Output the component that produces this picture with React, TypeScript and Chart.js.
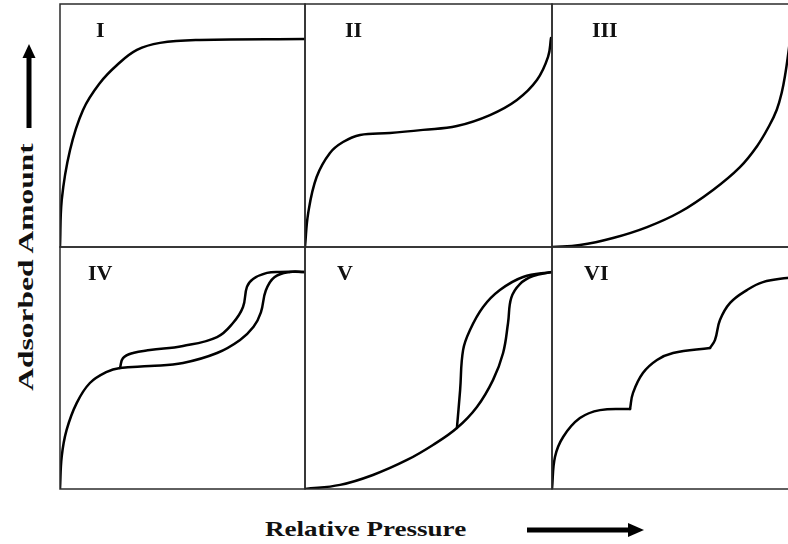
import React, { useEffect, useRef } from "react";
import { Chart, registerables } from "chart.js";

Chart.register(...registerables);

// Isotherm shapes, relative pressure (x) vs adsorbed amount (y), both 0..1
const typeI: number[][] = [
  [0, 0], [0.007, 0.193], [0.041, 0.399], [0.094, 0.564], [0.163, 0.675],
  [0.233, 0.749], [0.314, 0.811], [0.408, 0.84], [0.571, 0.852], [1.0, 0.856],
];
const typeII: number[][] = [
  [0, 0], [0.013, 0.14], [0.047, 0.288], [0.101, 0.387], [0.154, 0.432],
  [0.223, 0.461], [0.344, 0.469], [0.478, 0.482], [0.615, 0.498], [0.749, 0.543],
  [0.858, 0.605], [0.939, 0.687], [0.984, 0.782], [0.996, 0.86],
];
const typeIII: number[][] = [
  [0, 0], [0.113, 0.008], [0.247, 0.037], [0.385, 0.082], [0.518, 0.144],
  [0.652, 0.235], [0.761, 0.329], [0.83, 0.415], [0.88, 0.5], [0.91, 0.565],
  [0.93, 0.635], [0.945, 0.715], [0.957, 0.8], [0.97, 0.9],
];
const typeIVAds: number[][] = [
  [0, 0], [0.007, 0.134], [0.027, 0.244], [0.068, 0.355], [0.122, 0.438],
  [0.191, 0.484], [0.245, 0.5], [0.367, 0.508], [0.502, 0.521], [0.641, 0.562],
  [0.735, 0.616], [0.79, 0.67], [0.82, 0.73], [0.84, 0.82], [0.875, 0.875],
  [0.939, 0.897], [0.996, 0.897],
];
const typeIVDes: number[][] = [
  [0.245, 0.5], [0.257, 0.541], [0.298, 0.562], [0.367, 0.574], [0.502, 0.591],
  [0.641, 0.628], [0.706, 0.686], [0.747, 0.752], [0.763, 0.835], [0.788, 0.868],
  [0.845, 0.893], [0.898, 0.897], [0.996, 0.897],
];
const typeVAds: number[][] = [
  [0, 0], [0.142, 0.017], [0.275, 0.058], [0.413, 0.12], [0.518, 0.182],
  [0.615, 0.252], [0.696, 0.339], [0.761, 0.45], [0.802, 0.562], [0.822, 0.686],
  [0.835, 0.79], [0.87, 0.847], [0.923, 0.88], [1.0, 0.897],
];
const typeVDes: number[][] = [
  [0.615, 0.252], [0.628, 0.409], [0.64, 0.574], [0.668, 0.657], [0.721, 0.752],
  [0.789, 0.822], [0.883, 0.876], [1.0, 0.897],
];
// stepwise multilayer isotherm, one array per step
const typeVIStep1: number[][] = [
  [0, 0], [0.012, 0.132], [0.045, 0.215], [0.113, 0.293], [0.194, 0.326],
  [0.316, 0.331],
];
const typeVIStep2: number[][] = [
  [0.316, 0.331], [0.328, 0.397], [0.368, 0.479], [0.425, 0.533], [0.49, 0.562],
  [0.64, 0.583],
];
const typeVIStep3: number[][] = [
  [0.64, 0.583], [0.66, 0.616], [0.68, 0.698], [0.721, 0.769], [0.789, 0.822],
  [0.854, 0.855], [0.951, 0.872], [0.99, 0.874],
];

const romanLabels = ["I", "II", "III", "IV", "V", "VI"];
const panelSeries: number[][][][] = [
  [typeI], [typeII], [typeIII],
  [typeIVAds, typeIVDes], [typeVAds, typeVDes],
  [typeVIStep1, typeVIStep2, typeVIStep3],
];
const xAxisTitle = "Relative Pressure";
const yAxisTitle = "Adsorbed Amount";

// grid geometry (page pixels)
const colEdges = [60, 305, 552, 799];
const rowEdges = [4, 247, 489];
const PAD = 2;
const SERIF = '"Liberation Serif", "Times New Roman", serif';

const framePlugin = {
  id: "panelFrame",
  afterDatasetsDraw(chart: any) {
    const { ctx, chartArea: a } = chart;
    ctx.save();
    ctx.strokeStyle = "#2b2b2b";
    ctx.lineWidth = 1.5;
    ctx.strokeRect(a.left, a.top, a.right - a.left, a.bottom - a.top);
    ctx.restore();
  },
};

function Panel({ index }: { index: number }) {
  const ref = useRef<HTMLCanvasElement>(null);
  const col = index % 3;
  const row = Math.floor(index / 3);
  const x0 = colEdges[col];
  const y0 = rowEdges[row];
  const w = colEdges[col + 1] - x0;
  const h = rowEdges[row + 1] - y0;

  useEffect(() => {
    if (!ref.current) return;
    const chart = new Chart(ref.current, {
      type: "line",
      data: {
        datasets: panelSeries[index].map((pts) => ({
          data: pts.map(([x, y]) => ({ x, y })),
          borderColor: "#000",
          borderWidth: 2.5,
          pointRadius: 0,
          fill: false,
          tension: 0.4,
          borderCapStyle: "round" as const,
          borderJoinStyle: "round" as const,
        })),
      },
      options: {
        animation: false,
        responsive: false,
        events: [],
        layout: { padding: PAD },
        plugins: { legend: { display: false }, tooltip: { enabled: false } },
        scales: {
          x: { type: "linear", min: 0, max: 1, display: false },
          y: { type: "linear", min: 0, max: 1, display: false },
        },
      },
      plugins: [framePlugin],
    });
    return () => chart.destroy();
  }, [index]);

  return (
    <>
      <canvas
        ref={ref}
        width={w + PAD * 2}
        height={h + PAD * 2}
        style={{ position: "absolute", left: x0 - PAD, top: y0 - PAD }}
      />
      <div
        style={{
          position: "absolute",
          left: x0 + (col === 0 ? (row === 0 ? 36 : 28) : row === 0 ? 40 : 32),
          top: y0 + 15,
          font: `bold 22px ${SERIF}`,
          lineHeight: 1,
          color: "#111",
        }}
      >
        {romanLabels[index]}
      </div>
    </>
  );
}

export default function App() {
  return (
    <div
      style={{
        position: "fixed",
        left: 0,
        top: 0,
        width: 788,
        height: 544,
        overflow: "hidden",
        background: "#fff",
      }}
    >
      {romanLabels.map((_, i) => (
        <Panel key={i} index={i} />
      ))}
      <div
        style={{
          position: "absolute",
          left: 265,
          top: 518,
          font: `bold 22px ${SERIF}`,
          lineHeight: 1,
          whiteSpace: "nowrap",
          transformOrigin: "left center",
          transform: "scaleX(1.23)",
          color: "#111",
        }}
      >
        {xAxisTitle}
      </div>
      <div
        style={{
          position: "absolute",
          left: 26,
          top: 267,
          font: `bold 22px ${SERIF}`,
          lineHeight: 1,
          whiteSpace: "nowrap",
          transform: "translate(-50%, -50%) rotate(-90deg) scaleX(1.43)",
          color: "#111",
        }}
      >
        {yAxisTitle}
      </div>
      <svg
        width={788}
        height={544}
        style={{ position: "absolute", left: 0, top: 0, pointerEvents: "none" }}
      >
        <line x1={29} y1={128} x2={29} y2={54} stroke="#000" strokeWidth={5} />
        <polygon points="29,44 22.5,58 35.5,58" fill="#000" />
        <line x1={527} y1={530} x2={632} y2={530} stroke="#000" strokeWidth={5} />
        <polygon points="644,530 628,523 628,537" fill="#000" />
      </svg>
    </div>
  );
}
